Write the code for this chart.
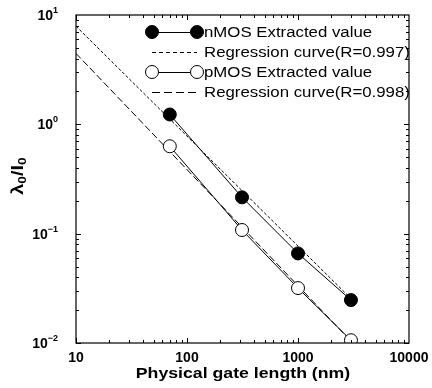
<!DOCTYPE html>
<html>
<head>
<meta charset="utf-8">
<script src="https://cdn.jsdelivr.net/npm/chart.js@4.4.0/dist/chart.umd.min.js"></script>
<style>
    html, body { margin: 0; padding: 0; background: #fff; }
    #wrap { width: 432px; height: 388px; position: relative; }
</style>
</head>
<body>
<div id="wrap"><canvas id="myChart" width="432" height="388"></canvas></div>
<script>
// gate lengths (nm)
const gateLength = [70, 313, 1000, 3000];
// extracted lambda0/I0 values
const nmosValues = [1.23, 0.215, 0.066, 0.0247];
const pmosValues = [0.63, 0.108, 0.0318, 0.0106];
// regression curves, end points
const regX = [10, 3000];
const nmosReg = [7.9, 0.0255];
const pmosReg = [4.45, 0.0104];
const xTicks = [10, 100, 1000, 10000];
const yTickExp = [1, 0, -1, -2];
const legendLabels = [
    "nMOS Extracted value",
    "Regression curve(R=0.997)",
    "pMOS Extracted value",
    "Regression curve(R=0.998)",
];

const pts = (xs, ys) => xs.map((x, i) => ({ x: x, y: ys[i] }));

// draw text stretched horizontally (the original's text is wide)
function wideText(ctx, txt, x, y, sx) {
    ctx.save();
    ctx.translate(x, y);
    ctx.scale(sx, 1);
    ctx.fillText(txt, 0, 0);
    ctx.restore();
}

// frame, inward ticks, tick labels with superscripts, titles, legend
const decorPlugin = {
    id: "decor",
    afterDraw(chart) {
        const ctx = chart.ctx;
        const a = chart.chartArea;
        const xs = chart.scales.x;
        const ys = chart.scales.y;
        ctx.save();
        ctx.strokeStyle = "#000";
        ctx.lineWidth = 1.2;
        ctx.strokeRect(a.left, a.top, a.right - a.left, a.bottom - a.top);

        ctx.lineWidth = 1;
        // x ticks (bottom + top)
        for (let d = 10; d < 10000; d *= 10) {
            for (let m = 1; m < 10; m++) {
                const px = Math.round(xs.getPixelForValue(d * m)) + 0.5;
                const len = m === 1 ? 5 : 3;
                ctx.beginPath();
                ctx.moveTo(px, a.bottom);
                ctx.lineTo(px, a.bottom - len);
                ctx.moveTo(px, a.top);
                ctx.lineTo(px, a.top + len);
                ctx.stroke();
            }
        }
        // y ticks (left + right)
        for (let d = 0.01; d < 10; d *= 10) {
            for (let m = 1; m < 10; m++) {
                const py = Math.round(ys.getPixelForValue(d * m)) + 0.5;
                const len = m === 1 ? 5 : 3;
                ctx.beginPath();
                ctx.moveTo(a.left, py);
                ctx.lineTo(a.left + len, py);
                ctx.moveTo(a.right, py);
                ctx.lineTo(a.right - len, py);
                ctx.stroke();
            }
        }

        ctx.fillStyle = "#000";
        // x tick labels
        ctx.font = "bold 14px 'Liberation Sans', Arial, sans-serif";
        ctx.textAlign = "center";
        ctx.textBaseline = "middle";
        xTicks.forEach((v) => {
            ctx.fillText(String(v), xs.getPixelForValue(v), a.bottom + 15);
        });

        // y tick labels 10^n
        yTickExp.forEach((e) => {
            const py = ys.getPixelForValue(Math.pow(10, e));
            const sup = e < 0 ? "\u2212" + (-e) : String(e);
            ctx.font = "bold 9px 'Liberation Sans', Arial, sans-serif";
            const sw = ctx.measureText(sup).width;
            const right = a.left - 18;
            ctx.textAlign = "left";
            ctx.textBaseline = "alphabetic";
            ctx.fillText(sup, right - sw, py - 2);
            ctx.font = "bold 14px 'Liberation Sans', Arial, sans-serif";
            ctx.textAlign = "right";
            ctx.textBaseline = "middle";
            ctx.fillText("10", right - sw, py + 1);
        });

        // x title
        ctx.font = "bold 15px 'Liberation Sans', Arial, sans-serif";
        ctx.textAlign = "center";
        ctx.textBaseline = "middle";
        wideText(ctx, "Physical gate length (nm)", 243, 374, 1.18);

        // y title: lambda0/I0, rotated
        ctx.save();
        ctx.translate(19, 176);
        ctx.rotate(-Math.PI / 2);
        ctx.scale(1.25, 1);
        const big = "bold 16px 'Liberation Sans', Arial, sans-serif";
        const small = "bold 11px 'Liberation Sans', Arial, sans-serif";
        const parts = [
            ["\u03bb", big, 0],
            ["0", small, 4],
            ["/I", big, 0],
            ["0", small, 4],
        ];
        let total = 0;
        parts.forEach((p) => {
            ctx.font = p[1];
            total += ctx.measureText(p[0]).width;
        });
        let cx = -total / 2;
        ctx.textAlign = "left";
        ctx.textBaseline = "middle";
        parts.forEach((p) => {
            ctx.font = p[1];
            ctx.fillText(p[0], cx, p[2]);
            cx += ctx.measureText(p[0]).width;
        });
        ctx.restore();

        // legend
        const lx0 = 152;
        const lx1 = 197;
        const rows = [32, 52, 72, 92];
        ctx.font = "14px 'Liberation Sans', Arial, sans-serif";
        rows.forEach((ry, i) => {
            ctx.strokeStyle = "#000";
            ctx.lineWidth = 1;
            ctx.beginPath();
            if (i === 1) ctx.setLineDash([4, 3]);
            if (i === 3) ctx.setLineDash([8, 4]);
            ctx.moveTo(lx0, ry + 0.5);
            ctx.lineTo(lx1, ry + 0.5);
            ctx.stroke();
            ctx.setLineDash([]);
            if (i === 0 || i === 2) {
                [lx0, lx1].forEach((px) => {
                    ctx.beginPath();
                    ctx.arc(px, ry, 6.5, 0, Math.PI * 2);
                    ctx.fillStyle = i === 0 ? "#000" : "#fff";
                    ctx.fill();
                    ctx.stroke();
                });
            }
            ctx.fillStyle = "#000";
            ctx.textAlign = "left";
            ctx.textBaseline = "middle";
            wideText(ctx, legendLabels[i], 204, ry + 1, 1.2);
        });
        ctx.restore();
    },
};

const ctx = document.getElementById("myChart").getContext("2d");
const chart = new window.Chart(ctx, {
    type: "line",
    data: {
        datasets: [
            {
                label: legendLabels[0],
                data: pts(gateLength, nmosValues),
                borderColor: "#000",
                borderWidth: 1,
                backgroundColor: "#000",
                pointBackgroundColor: "#000",
                pointBorderColor: "#000",
                pointRadius: 6.5,
                order: 1,
            },
            {
                label: legendLabels[1],
                data: pts(regX, nmosReg),
                borderColor: "#000",
                borderWidth: 1,
                borderDash: [3, 2],
                pointRadius: 0,
                order: 2,
            },
            {
                label: legendLabels[2],
                data: pts(gateLength, pmosValues),
                borderColor: "#000",
                borderWidth: 1,
                pointBackgroundColor: "#fff",
                pointBorderColor: "#000",
                pointBorderWidth: 1,
                pointRadius: 6.5,
                order: 1,
            },
            {
                label: legendLabels[3],
                data: pts(regX, pmosReg),
                borderColor: "#000",
                borderWidth: 1,
                borderDash: [7, 3],
                pointRadius: 0,
                order: 2,
            },
        ],
    },
    options: {
        responsive: false,
        animation: false,
        layout: {
            padding: { left: 76, right: 23, top: 15, bottom: 45 },
        },
        plugins: {
            legend: { display: false },
            tooltip: { enabled: false },
        },
        scales: {
            x: {
                type: "logarithmic",
                min: 10,
                max: 10000,
                ticks: { display: false },
                grid: { display: false, drawTicks: false },
                border: { display: false },
            },
            y: {
                type: "logarithmic",
                min: 0.01,
                max: 10,
                ticks: { display: false },
                grid: { display: false, drawTicks: false },
                border: { display: false },
            },
        },
    },
    plugins: [decorPlugin],
});
</script>
</body>
</html>
